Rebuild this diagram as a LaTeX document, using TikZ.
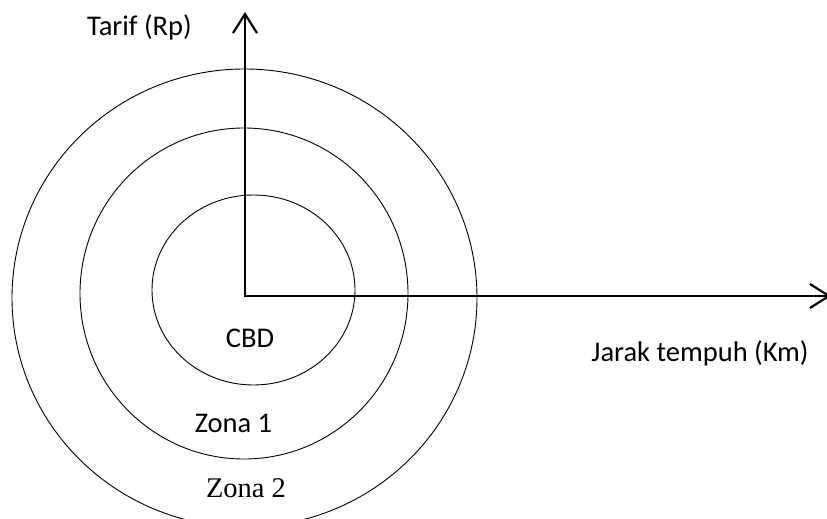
\documentclass[tikz,border=0pt]{standalone}
\usepackage{fontspec}
\setmainfont{Carlito}
\newfontfamily\zoneserif{Liberation Serif}
\usetikzlibrary{arrows.meta}
\begin{document}
\begin{tikzpicture}[x=1pt, y=-1pt,
  zone/.style={line width=0.9pt},
  axis/.style={line width=2.2pt, line join=miter,
    {Straight Barb[length=19pt,width=24pt]}-{Straight Barb[length=19pt,width=24pt]}},
  lbl/.style={font=\fontsize{28.5}{32}\selectfont, anchor=base, inner sep=0pt},
  lblserif/.style={lbl, font=\zoneserif\fontsize{28.5}{32}\selectfont}]
  \useasboundingbox (0,0) rectangle (827,519);
  \clip (0,0) rectangle (827,519);

  % zone rings around the CBD
  \draw[zone] (253.5,290) ellipse [x radius=101.5pt, y radius=95pt];
  \draw[zone] (244,293.5) ellipse [x radius=164pt, y radius=165.5pt];
  \draw[zone] (244.5,298) ellipse [x radius=232.5pt, y radius=229pt];

  % axes (the x-axis tip runs just past the right edge)
  \coordinate (O) at (245,296);
  \coordinate (ytip) at (245,12);
  \coordinate (xtip) at (831,296);
  \draw[axis] (ytip) -- (O) -- (xtip);

  % labels
  \node[lbl] (tarif) at (139.5,36) {Tarif (Rp)};
  \node[lbl] (jarak) at (700,361) {Jarak tempuh (Km)};
  \node[lbl] (cbd) at (250,347) {CBD};
  \node[lbl] (zona1) at (233.5,432) {Zona 1};
  \node[lblserif] (zona2) at (246,497) {Zona 2};
\end{tikzpicture}
\end{document}
